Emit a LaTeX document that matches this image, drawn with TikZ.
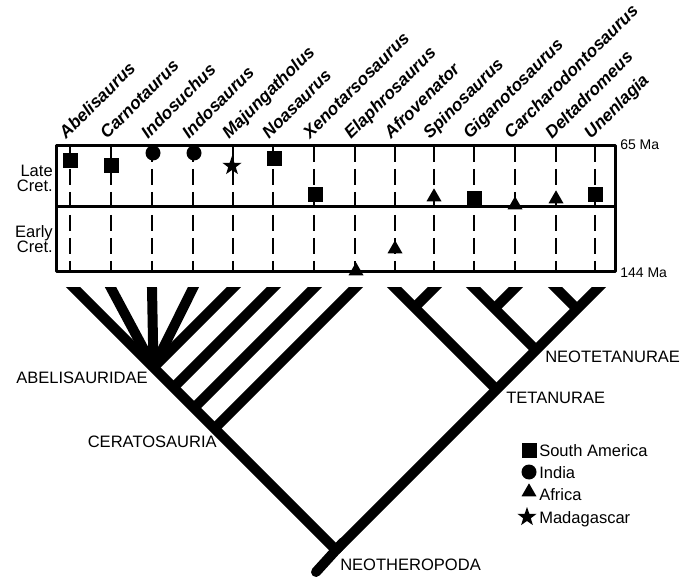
\documentclass[tikz,border=0pt]{standalone}
\usepackage{fontspec}
\setmainfont{Liberation Sans}
\usetikzlibrary{shapes.geometric}

\begin{document}
\begin{tikzpicture}[x=.75pt, y=-.75pt, line join=round,
  every node/.style={font=\fontsize{12.4}{14}\selectfont, inner sep=0pt},
  taxon/.style={font=\fontsize{13}{15}\selectfont\bfseries\itshape, rotate=45, anchor=base west},
  era/.style={anchor=base east},
  age/.style={font=\fontsize{10.5}{12}\selectfont, anchor=base west},
  clade/.style={anchor=west},
  branch/.style={line width=7.5pt, shorten <=-8pt},
  timeline/.style={line width=1.9pt, dash pattern=on 12pt off 5.25pt},
  samerica/.style={rectangle, fill, minimum size=11.25pt},
  india/.style={circle, fill, minimum size=11.25pt},
  africa/.style={regular polygon, regular polygon sides=3, fill, minimum size=13pt},
  madagascar/.style={star, star points=5, star point ratio=2.5, fill, minimum size=15pt}]
  \useasboundingbox (0,0) rectangle (681,580);

  % columns, at the top of the box
  \coordinate (abel)   at (70,146);
  \coordinate (carno)  at (111,146);
  \coordinate (indosu) at (152,146);
  \coordinate (indosa) at (193,146);
  \coordinate (majung) at (233,146);
  \coordinate (noa)    at (273,146);
  \coordinate (xeno)   at (314,146);
  \coordinate (elaph)  at (355,146);
  \coordinate (afro)   at (395,146);
  \coordinate (spino)  at (434,146);
  \coordinate (giga)   at (474,146);
  \coordinate (carch)  at (515,146);
  \coordinate (delta)  at (556,146);
  \coordinate (unen)   at (595,146);

  \coordinate (box-nw) at (56,146);
  \coordinate (box-se) at (615,272);
  \coordinate (mid-w)  at (56,207);
  \coordinate (mid-e)  at (615,207);

  % tips and nodes of the tree
  \coordinate (abel-tip)   at (74,288);
  \coordinate (carno-tip)  at (111,288);
  \coordinate (indosu-tip) at (152,288);
  \coordinate (indosa-tip) at (193,288);
  \coordinate (majung-tip) at (233,288);
  \coordinate (noa-tip)    at (273,288);
  \coordinate (xeno-tip)   at (314,288);
  \coordinate (elaph-tip)  at (355,288);
  \coordinate (afro-tip)   at (395,288);
  \coordinate (spino-tip)  at (434,288);
  \coordinate (giga-tip)   at (474,288);
  \coordinate (carch-tip)  at (515,288);
  \coordinate (delta-tip)  at (556,288);
  \coordinate (unen-tip)   at (598,288);

  \coordinate (F)    at (153.5,367.5);
  \coordinate (noa-j)  at (173.5,387.5);
  \coordinate (xeno-j) at (194,408);
  \coordinate (C)    at (214.5,428.5);
  \coordinate (R)    at (336,550);
  \coordinate (root) at (316,572);
  \coordinate (as-j) at (414.5,307.5);
  \coordinate (T)    at (496.5,389.5);
  \coordinate (gc-j) at (494.5,308.5);
  \coordinate (NT)   at (536,350);
  \coordinate (du-j) at (577,309);

  % time chart
  \draw[timeline] (abel) -- ++(0,126);
  \draw[timeline] (carno) -- ++(0,126);
  \draw[timeline] (indosu) -- ++(0,126);
  \draw[timeline] (indosa) -- ++(0,126);
  \draw[timeline] (majung) -- ++(0,126);
  \draw[timeline] (noa) -- ++(0,126);
  \draw[timeline] (xeno) -- ++(0,126);
  \draw[timeline] (elaph) -- ++(0,126);
  \draw[timeline] (afro) -- ++(0,126);
  \draw[timeline] (spino) -- ++(0,126);
  \draw[timeline] (giga) -- ++(0,126);
  \draw[timeline] (carch) -- ++(0,126);
  \draw[timeline] (delta) -- ++(0,126);
  \draw[timeline] (unen) -- ++(0,126);
  \draw[line width=2.25pt] (box-nw) rectangle (box-se);
  \draw[line width=2.25pt] (mid-w) -- (mid-e);

  \node[samerica]   (m-abel)   at (70,161)  {};
  \node[samerica]   (m-carno)  at (111,166) {};
  \node[india]      (m-indosu) at (153,153) {};
  \node[india]      (m-indosa) at (194,153) {};
  \node[madagascar] (m-majung) at (232,166) {};
  \node[samerica]   (m-noa)    at (274,159) {};
  \node[samerica]   (m-xeno)   at (315,195) {};
  \node[africa]     (m-elaph)  at (356,271) {};
  \node[africa]     (m-afro)   at (395,249) {};
  \node[africa]     (m-spino)  at (434,197) {};
  \node[samerica]   (m-giga)   at (474,199) {};
  \node[africa]     (m-carch)  at (515,205) {};
  \node[africa]     (m-delta)  at (556,199) {};
  \node[samerica]   (m-unen)   at (595,195) {};

  % tree
  \begin{scope}
    \clip (0,288) rectangle (681,580);
    \draw[branch] (abel-tip) -- (R);
    \draw[branch] (unen-tip) -- (R);
    \draw[branch] (carno-tip) -- (F);
    \draw[branch] (indosu-tip) -- (F);
    \draw[branch] (indosa-tip) -- (F);
    \draw[branch] (majung-tip) -- (F);
    \draw[branch] (noa-tip) -- (noa-j);
    \draw[branch] (xeno-tip) -- (xeno-j);
    \draw[branch] (elaph-tip) -- (C);
    \draw[branch] (afro-tip) -- (T);
    \draw[branch] (spino-tip) -- (as-j);
    \draw[branch] (giga-tip) -- (NT);
    \draw[branch] (carch-tip) -- (gc-j);
    \draw[branch] (delta-tip) -- (du-j);
    \draw[branch, line cap=round] (R) -- (root);
  \end{scope}

  % labels
  \node[taxon] (t-abel)   at (66,140)  {Abelisaurus};
  \node[taxon] (t-carno)  at (107,140) {Carnotaurus};
  \node[taxon] (t-indosu) at (148,140) {Indosuchus};
  \node[taxon] (t-indosa) at (189,140) {Indosaurus};
  \node[taxon] (t-majung) at (229,140) {Majungatholus};
  \node[taxon] (t-noa)    at (269,140) {Noasaurus};
  \node[taxon] (t-xeno)   at (310,140) {Xenotarsosaurus};
  \node[taxon] (t-elaph)  at (351,140) {Elaphrosaurus};
  \node[taxon] (t-afro)   at (391,140) {Afrovenator};
  \node[taxon] (t-spino)  at (430,140) {Spinosaurus};
  \node[taxon] (t-giga)   at (470,140) {Giganotosaurus};
  \node[taxon] (t-carch)  at (511,140) {Carcharodontosaurus};
  \node[taxon] (t-delta)  at (552,140) {Deltadromeus};
  \node[taxon] (t-unen)   at (591,140) {Unenlagia};

  \node[era] (late)   at (53,177) {Late};
  \node[era] (cret1)  at (53,192) {Cret.};
  \node[era] (early)  at (53,238) {Early};
  \node[era] (cret2)  at (53,253) {Cret.};
  \node[age] (ma65)   at (620,150) {65 Ma};
  \node[age] (ma144)  at (620,278) {144 Ma};

  \node[clade, anchor=east] (abelisauridae) at (148,378) {ABELISAURIDAE};
  \node[clade, anchor=east] (ceratosauria)  at (217,442) {CERATOSAURIA};
  \node[clade] (neotetanurae) at (545,357) {NEOTETANURAE};
  \node[clade] (tetanurae)    at (506,398) {TETANURAE};
  \node[clade] (neotheropoda) at (340,565) {NEOTHEROPODA};

  % legend
  \node[samerica]   (k-sam)  at (529,450) {};
  \node[india]      (k-ind)  at (529,472) {};
  \node[africa]     (k-afr)  at (529,492) {};
  \node[madagascar] (k-mad)  at (527,517) {};
  \node[anchor=base west] (l-sam) at (539,456) {South America};
  \node[anchor=base west] (l-ind) at (539,478) {India};
  \node[anchor=base west] (l-afr) at (539,500) {Africa};
  \node[anchor=base west] (l-mad) at (539,523) {Madagascar};
\end{tikzpicture}
\end{document}
